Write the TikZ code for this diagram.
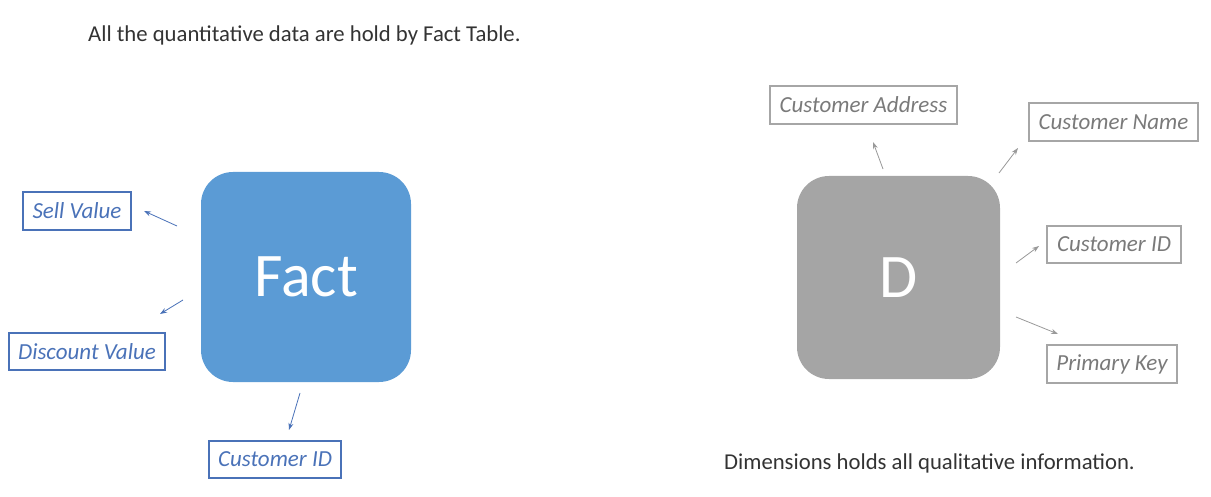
\documentclass[tikz,border=0pt]{standalone}
\usepackage{fontspec}
\setmainfont{Carlito}
\usetikzlibrary{arrows.meta}
\definecolor{factblue}{HTML}{5B9BD5}
\definecolor{lblblue}{HTML}{4A72B8}
\definecolor{dimgray}{HTML}{A5A5A5}
\definecolor{lblgray}{HTML}{7A7A7A}
\definecolor{boxgray}{HTML}{A6A6A6}
\definecolor{arrgray}{HTML}{999999}
\tikzset{
  bluelbl/.style={draw=lblblue, line width=1.6pt, text=lblblue, font=\fontsize{23}{27}\selectfont\itshape, inner sep=0pt},
  graylbl/.style={draw=boxgray, line width=2pt, text=lblgray, font=\fontsize{23}{27}\selectfont\itshape, inner sep=0pt},
  bigbox/.style={rounded corners=32pt, inner sep=0pt, text=white, font=\fontsize{62}{70}\selectfont},
  bluearr/.style={draw=lblblue, line width=0.8pt, -{Stealth[length=7pt,width=5pt]}},
  grayarr/.style={draw=arrgray, line width=0.8pt, -{Stealth[length=7pt,width=5pt]}},
  note/.style={text=black!80, font=\fontsize{22.7}{26}\selectfont, inner sep=0pt}
}
\begin{document}
\begin{tikzpicture}[x=1pt,y=-1pt]
\useasboundingbox (0,0) rectangle (1211,497);
\node[note, anchor=base west] (t1) at (88,42) {All the quantitative data are hold by Fact Table.};
\node[note, anchor=base west] (t2) at (724,469) {Dimensions holds all qualitative information.};

\node[bigbox, fill=factblue, minimum width=210pt, minimum height=210pt] (fact) at (306,277) {Fact};
\node[bluelbl, minimum width=108pt, minimum height=38pt] (sell) at (77,211) {Sell Value};
\node[bluelbl, minimum width=156pt, minimum height=37pt] (disc) at (87,351.5) {Discount Value};
\node[bluelbl, minimum width=132pt, minimum height=37pt] (cidl) at (275,459.5) {Customer ID};

\coordinate (a1s) at (177,226); \coordinate (a1e) at (144,211);
\coordinate (a2s) at (183,300); \coordinate (a2e) at (160,314);
\coordinate (a3s) at (300,393); \coordinate (a3e) at (289,430);
\draw[bluearr] (a1s) -- (a1e);
\draw[bluearr] (a2s) -- (a2e);
\draw[bluearr] (a3s) -- (a3e);

\node[bigbox, fill=dimgray, minimum width=203pt, minimum height=203pt] (dim) at (898.5,277.5) {D};
\node[graylbl, minimum width=187pt, minimum height=38pt] (addr) at (863.5,105) {Customer Address};
\node[graylbl, minimum width=169pt, minimum height=38pt] (name) at (1113.5,122) {Customer Name};
\node[graylbl, minimum width=134pt, minimum height=37pt] (cidr) at (1114,244.5) {Customer ID};
\node[graylbl, minimum width=130pt, minimum height=38pt] (pk) at (1112,364) {Primary Key};

\coordinate (b1s) at (883,169); \coordinate (b1e) at (873,142);
\coordinate (b2s) at (999,173); \coordinate (b2e) at (1018,148);
\coordinate (b3s) at (1016,263); \coordinate (b3e) at (1039,246);
\coordinate (b4s) at (1016,317); \coordinate (b4e) at (1058,334);
\draw[grayarr] (b1s) -- (b1e);
\draw[grayarr] (b2s) -- (b2e);
\draw[grayarr] (b3s) -- (b3e);
\draw[grayarr] (b4s) -- (b4e);
\end{tikzpicture}
\end{document}
